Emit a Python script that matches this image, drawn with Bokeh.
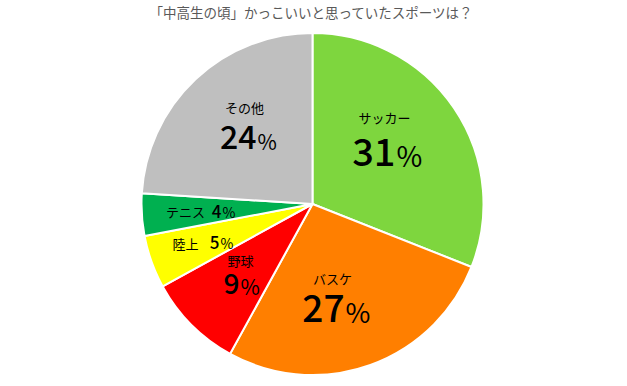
import math
from bokeh.plotting import figure
from bokeh.models import Range1d, ColumnDataSource
from bokeh.core.properties import value
from bokeh.embed import file_html
from bokeh.resources import INLINE

title_text = "「中高生の頃」かっこいいと思っていたスポーツは？"
categories = ["サッカー", "バスケ", "野球", "陸上", "テニス", "その他"]
values = [31, 27, 9, 5, 4, 24]
colors = ["#7ED63E", "#FF7F00", "#FF0000", "#FFFF00", "#00B050", "#BFBFBF"]

W, H = 619, 378
def sx(x):
    return x
def sy(y):
    return H - y

# label layout (screen coords): label center, number baseline, split x, sizes
layout = {
    "サッカー": dict(lx=384, ly=117, by=165, split=395, ns=38, ps=28),
    "バスケ": dict(lx=332, ly=278, by=321, split=344, ns=37, ps=27),
    "野球": dict(lx=240, ly=260, by=293, split=239, ns=28, ps=21),
    "陸上": dict(lx=185, ly=243, by=248, split=219, ns=17, ps=14),
    "テニス": dict(lx=185, ly=211, by=217, split=221, ns=17, ps=14),
    "その他": dict(lx=244, ly=107, by=148, split=256, ns=32, ps=21),
}

p = figure(width=W, height=H, output_backend="svg", toolbar_location=None,
           x_range=Range1d(0, W), y_range=Range1d(0, H), min_border=0)
p.axis.visible = False
p.grid.visible = False
p.outline_line_color = None
p.background_fill_color = "white"
p.border_fill_color = "white"

cx, cy, r = sx(312), sy(203.5), 171
total = sum(values)
starts, ends = [], []
cum = 0
for v in values:
    starts.append(math.pi / 2 - 2 * math.pi * cum / total)
    cum += v
    ends.append(math.pi / 2 - 2 * math.pi * cum / total)

src = ColumnDataSource(dict(start=starts, end=ends, color=colors, cat=categories))
p.wedge(x=cx, y=cy, radius=r, start_angle="start", end_angle="end", direction="clock",
        fill_color="color", line_color="white", line_width=2, source=src)

font = value("Noto Sans CJK JP")
numfont = value("Noto Sans CJK JP Medium, Noto Sans CJK JP")
for cat, v in zip(categories, values):
    L = layout[cat]
    p.text(x=[sx(L["lx"])], y=[sy(L["ly"])], text=[cat], text_font=font,
           text_font_size="13px", text_align="center", text_baseline="middle",
           text_color="#000000")
    p.text(x=[sx(L["split"])], y=[sy(L["by"] - 0.36 * L["ns"])], text=[str(v)], text_font=numfont,
           text_font_size=f"{L['ns']}px", text_align="right", text_baseline="middle",
           text_color="#000000")
    p.text(x=[sx(L["split"]) + 1], y=[sy(L["by"] - 0.36 * L["ps"])], text=["%"], text_font=font,
           text_font_size=f"{L['ps']}px", text_align="left", text_baseline="middle",
           text_color="#000000")

p.text(x=[sx(311)], y=[sy(11)], text=[title_text], text_font=font, text_font_size="13.5px",
       text_align="center", text_baseline="middle", text_color="#595959")

open("out.html", "w").write(file_html(p, INLINE))
